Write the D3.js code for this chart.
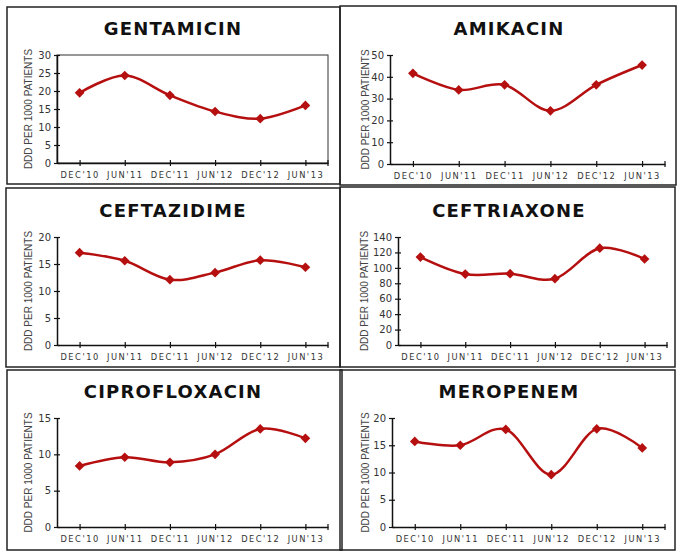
<!DOCTYPE html>
<html>
<head>
<meta charset="utf-8">
<script src="https://cdn.jsdelivr.net/npm/d3@7"></script>
<style>
  body { margin: 0; background: #fff; }
  .title { font-family: "DejaVu Sans", sans-serif; font-weight: bold; font-size: 18px; letter-spacing: 1.2px; fill: #111; }
  .ylabel { font-family: "Liberation Sans", Arial, sans-serif; font-size: 10px; fill: #444; }
  .ytick text { font-family: "DejaVu Sans", sans-serif; font-size: 10px; fill: #333; }
  .xtick text { font-family: "DejaVu Sans", sans-serif; font-size: 8.3px; letter-spacing: 1.5px; fill: #333; }
</style>
</head>
<body>
<div id="chart"></div>
<script>
// Data
const categories = ["DEC'10", "JUN'11", "DEC'11", "JUN'12", "DEC'12", "JUN'13"];
const drugNames = ["GENTAMICIN", "AMIKACIN", "CEFTAZIDIME", "CEFTRIAXONE", "CIPROFLOXACIN", "MEROPENEM"];

const gentamicin    = [19.5, 24.3, 18.8, 14.3, 12.3, 16.0];
const amikacin      = [41.6, 34.0, 36.3, 24.4, 36.3, 45.4];
const ceftazidime   = [17.1, 15.6, 12.1, 13.4, 15.7, 14.4];
const ceftriaxone   = [114, 92, 92.5, 86, 125.5, 111.5];
const ciprofloxacin = [8.4, 9.6, 8.9, 10.0, 13.5, 12.2];
const meropenem     = [15.7, 15.0, 17.9, 9.6, 18.0, 14.5];

const yMaxes = [30, 50, 20, 140, 15, 20];
const ySteps = [5, 10, 5, 20, 5, 5];
const seriesList = [gentamicin, amikacin, ceftazidime, ceftriaxone, ciprofloxacin, meropenem];

const yTitle = "DDD PER 1000 PATIENTS";

// Layout of the six panels
const panels = [
    {frame: [7, 7, 340, 184],     plot: {left: 57,  top: 55,  right: 328, bottom: 163}, titleX: 173, titleY: 35,  labelX: 28,  boxed: true},
    {frame: [340, 6, 676, 185],   plot: {left: 390, top: 55,  right: 665, bottom: 164}, titleX: 509, titleY: 35,  labelX: 365},
    {frame: [6, 188, 340, 367],   plot: {left: 57,  top: 237, right: 328, bottom: 345}, titleX: 173, titleY: 217, labelX: 28},
    {frame: [340, 187, 675, 367], plot: {left: 398, top: 237, right: 667, bottom: 345}, titleX: 509, titleY: 217, labelX: 364},
    {frame: [7, 370, 342, 550],   plot: {left: 57,  top: 418, right: 328, bottom: 527}, titleX: 173, titleY: 398, labelX: 28},
    {frame: [340, 370, 675, 550], plot: {left: 392, top: 418, right: 665, bottom: 527}, titleX: 509, titleY: 398, labelX: 365}
];

const width = 685, height = 560;
const lineColor = "#b50f0f";

const svg = d3.select("#chart").append("svg")
    .attr("width", width)
    .attr("height", height);

svg.append("rect").attr("width", width).attr("height", height).attr("fill", "#fff");

panels.forEach((p, i) => {
    const g = svg.append("g");
    const f = p.frame;

    // panel frame
    g.append("rect")
        .attr("x", f[0]).attr("y", f[1])
        .attr("width", f[2] - f[0]).attr("height", f[3] - f[1])
        .attr("fill", "none")
        .attr("stroke", "#222")
        .attr("stroke-width", 1.5);

    // title
    g.append("text")
        .attr("class", "title")
        .attr("x", p.titleX)
        .attr("y", p.titleY)
        .attr("text-anchor", "middle")
        .text(drugNames[i]);

    const x = d3.scalePoint()
        .domain(categories)
        .range([p.plot.left, p.plot.right])
        .padding(0.5);

    const y = d3.scaleLinear()
        .domain([0, yMaxes[i]])
        .range([p.plot.bottom, p.plot.top]);

    if (p.boxed) {
        g.append("rect")
            .attr("x", p.plot.left).attr("y", p.plot.top)
            .attr("width", p.plot.right - p.plot.left)
            .attr("height", p.plot.bottom - p.plot.top)
            .attr("fill", "none")
            .attr("stroke", "#333")
            .attr("stroke-width", 1);
    }

    // y axis
    const yAxis = g.append("g")
        .attr("class", "ytick")
        .attr("transform", "translate(" + p.plot.left + ",0)")
        .call(d3.axisLeft(y).tickValues(d3.range(0, yMaxes[i] + 0.001, ySteps[i])).tickSize(3).tickSizeOuter(0));
    yAxis.select(".domain").attr("stroke", "#111").attr("stroke-width", 1.5);
    yAxis.selectAll(".tick line").attr("x2", 3).attr("x1", -3).attr("stroke", "#111").attr("stroke-width", 1.2);
    yAxis.selectAll(".tick text").attr("x", -6);

    // x axis, ticks at category centers plus the right end
    const xAxis = g.append("g")
        .attr("class", "xtick")
        .attr("transform", "translate(0," + p.plot.bottom + ")")
        .call(d3.axisBottom(x).tickSize(3).tickSizeOuter(0));
    xAxis.select(".domain").attr("stroke", "#111").attr("stroke-width", 1.5);
    xAxis.selectAll(".tick line").attr("y1", -3).attr("y2", 3).attr("stroke", "#111").attr("stroke-width", 1.2);
    xAxis.selectAll(".tick text").attr("y", 9);
    xAxis.append("line")
        .attr("x1", p.plot.right).attr("x2", p.plot.right)
        .attr("y1", -3).attr("y2", 3)
        .attr("stroke", "#111").attr("stroke-width", 1.2);

    // y label
    const midY = (p.plot.top + p.plot.bottom) / 2;
    g.append("text")
        .attr("class", "ylabel")
        .attr("transform", "translate(" + p.labelX + "," + midY + ") rotate(-90)")
        .attr("text-anchor", "middle")
        .attr("dy", "0.35em")
        .text(yTitle);

    // smoothed line
    const values = seriesList[i];
    const line = d3.line()
        .x((d, j) => x(categories[j]))
        .y(d => y(d))
        .curve(d3.curveCardinal.tension(0));

    g.append("path")
        .datum(values)
        .attr("d", line)
        .attr("fill", "none")
        .attr("stroke", lineColor)
        .attr("stroke-width", 2.5);

    // diamond markers
    g.selectAll(".marker")
        .data(values)
        .enter().append("path")
        .attr("class", "marker")
        .attr("d", d3.symbol().type(d3.symbolDiamond2).size(60))
        .attr("transform", (d, j) => "translate(" + x(categories[j]) + "," + y(d) + ")")
        .attr("fill", lineColor);
});
</script>
</body>
</html>
